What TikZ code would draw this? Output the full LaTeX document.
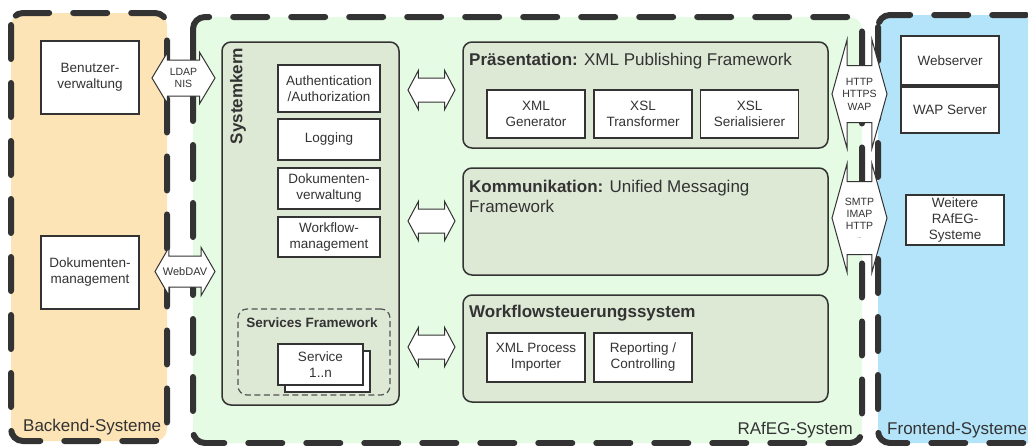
\documentclass[tikz,border=0pt]{standalone}
\usepackage{fontspec}
\setmainfont{Liberation Sans}
\usetikzlibrary{shapes.arrows}
\definecolor{backendfill}{HTML}{FDE4B6}
\definecolor{rafegfill}{HTML}{E5FBE4}
\definecolor{frontendfill}{HTML}{B4E4FA}
\definecolor{panelfill}{HTML}{DDE8D5}
\definecolor{ink}{HTML}{333333}

\begin{document}
\begin{tikzpicture}[
  x=1pt, y=-1pt,
  region/.style={line width=6pt, draw=ink, dash pattern=on 34pt off 24pt,
                 line cap=round, rounded corners=12pt},
  panel/.style={draw=ink, line width=1.5pt, fill=panelfill, rounded corners=9pt,
                inner sep=0pt},
  comp/.style={draw=ink, line width=1.2pt, fill=white, align=center, inner sep=0pt,
               text=ink, font=\fontsize{13.5}{16}\selectfont},
  dblarr/.style={double arrow, draw=ink, line width=1pt, fill=white, inner xsep=0pt},
  arrtext/.style={font=\fontsize{10.5}{12.5}\selectfont, align=center, text=ink},
  title/.style={font=\fontsize{17}{20}\selectfont, text=ink, inner sep=0pt},
]

\path[use as bounding box, clip] (0,0) rectangle (1028,445);

% Systembereiche
\draw[region, fill=backendfill] (11,13) rectangle (167,441);
\draw[region, fill=rafegfill] (193,17) rectangle (862,443);
\draw[region, fill=frontendfill] (878,15) rectangle (1060,443);

\node[title, anchor=base west] (backendlbl) at (23,431) {Backend-Systeme};
\node[title, anchor=base east] (rafeglbl) at (853,434) {RAfEG-System};
\node[title, anchor=base west] (frontendlbl) at (887,434) {Frontend-Systeme};

% Backend
\node[comp, minimum width=98, minimum height=73] (benutzer) at (90,77.5) {Benutzer-\\verwaltung};
\node[comp, minimum width=98, minimum height=73] (dokman) at (90,272.5) {Dokumenten-\\management};

% Systemkern
\node[panel, minimum width=177, minimum height=363] (kern) at (310.5,223.5) {};
\node[title, rotate=90, font=\fontsize{17}{20}\selectfont\bfseries] (kernlbl) at (238,96) {Systemkern};
\node[comp, minimum width=102, minimum height=47] (auth) at (329,88.5) {Authentication\\/Authorization};
\node[comp, minimum width=102, minimum height=41] (logging) at (329,139.5) {Logging};
\node[comp, minimum width=102, minimum height=41] (dokverw) at (329,188.5) {Dokumenten-\\verwaltung};
\node[comp, minimum width=102, minimum height=40] (wfmgmt) at (329,237) {Workflow-\\management};

\node[draw=ink!85, line width=1.2pt, dash pattern=on 6pt off 3.5pt, rounded corners=9pt,
      minimum width=152, minimum height=86] (svcfw) at (314,352) {};
\node[text=ink, font=\fontsize{13.5}{16}\selectfont\bfseries] (svcfwlbl) at (312,323) {Services Framework};
\node[comp, minimum width=85, minimum height=41] (svcback) at (327.5,371.5) {};
\node[comp, minimum width=85, minimum height=41] (svc) at (320.5,364.5) {Service\\1..n};

% Praesentation
\node[panel, minimum width=365, minimum height=106] (praes) at (645.5,95) {};
\node[title, anchor=base west] (praeslbl) at (469,65) {\textbf{Präsentation:} XML Publishing Framework};
\node[comp, minimum width=98, minimum height=48] (xmlgen) at (536,114) {XML\\Generator};
\node[comp, minimum width=98, minimum height=48] (xsltrans) at (643,114) {XSL\\Transformer};
\node[comp, minimum width=98, minimum height=48] (xslser) at (749.5,114) {XSL\\Serialisierer};

% Kommunikation
\node[panel, minimum width=365, minimum height=107] (komm) at (645.5,221.5) {};
\node[title, anchor=north west, align=left] (kommlbl) at (469,179.5)
  {\textbf{Kommunikation:} Unified Messaging\\Framework};

% Workflowsteuerung
\node[panel, minimum width=365, minimum height=107] (wfs) at (645.5,348.5) {};
\node[title, anchor=base west, font=\fontsize{17}{20}\selectfont\bfseries] (wfslbl) at (469,317) {Workflowsteuerungssystem};
\node[comp, minimum width=98, minimum height=49] (xmlproc) at (536,357.5) {XML Process\\Importer};
\node[comp, minimum width=98, minimum height=49] (reporting) at (643,357.5) {Reporting /\\Controlling};

% Frontend
\node[comp, minimum width=98, minimum height=49] (webserver) at (950,60.5) {Webserver};
\node[comp, minimum width=98, minimum height=46] (wapserver) at (950,110) {WAP Server};
\node[comp, minimum width=98, minimum height=50] (weitere) at (955,220) {Weitere\\RAfEG-\\Systeme};

% Schnittstellen
\node[dblarr, inner ysep=17.5pt, minimum height=63, minimum width=50,
      double arrow head extend=7.5, double arrow tip angle=118] (ldap) at (183.5,78) {};
\node[arrtext] (ldaplbl) at (ldap.center) {LDAP\\NIS};
\node[dblarr, inner ysep=15pt, minimum height=60, minimum width=47,
      double arrow head extend=8.5, double arrow tip angle=120] (webdav) at (185,271.5) {};
\node[arrtext, font=\fontsize{11}{12.5}\selectfont] (webdavlbl) at (webdav.center) {WebDAV};

\node[dblarr, inner ysep=11.5pt, minimum height=47, minimum width=38,
      double arrow head extend=7.5, double arrow tip angle=124] (kernpraes) at (431.5,90) {};
\node[dblarr, inner ysep=11.5pt, minimum height=47, minimum width=38,
      double arrow head extend=7.5, double arrow tip angle=124] (kernkomm) at (431.5,221) {};
\node[dblarr, inner ysep=11.5pt, minimum height=47, minimum width=38,
      double arrow head extend=7.5, double arrow tip angle=124] (kernwfs) at (431.5,347) {};

\node[dblarr, inner ysep=28pt, minimum height=55, minimum width=108,
      double arrow head extend=26, double arrow tip angle=149] (http) at (859.5,94) {};
\node[arrtext] (httplbl) at (http.center) {HTTP\\HTTPS\\WAP};
\node[dblarr, inner ysep=36pt, minimum height=55, minimum width=108,
      double arrow head extend=18, double arrow tip angle=149] (smtp) at (859.5,218) {};
\node[arrtext, font=\fontsize{10.5}{12}\selectfont] (smtplbl) at (smtp.center) {SMTP\\IMAP\\HTTP\\[-3pt]{\tiny ...}};

\end{tikzpicture}
\end{document}
